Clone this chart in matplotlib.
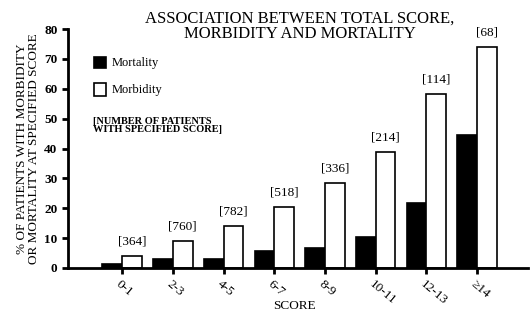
import matplotlib.pyplot as plt
import numpy as np
from matplotlib.patches import Rectangle

# 数据
scores = ['0-1', '2-3', '4-5', '6-7', '8-9', '10-11', '12-13', '\u226514']
mortality = [1.3, 3.1, 3.0, 5.6, 6.7, 10.4, 21.9, 44.6]
morbidity = [3.9, 9.1, 14.1, 20.3, 28.6, 39.0, 58.2, 74.1]
n_patients = ['[364]', '[760]', '[782]', '[518]', '[336]', '[214]', '[114]', '[68]']

plt.rcParams['font.family'] = ['Liberation Serif', 'DejaVu Serif']

fig = plt.figure(figsize=(5.31, 3.16), dpi=100)
ax = fig.add_axes([0.128, 0.152, 0.866, 0.756])

x = np.arange(len(scores))
w = 0.39
ax.bar(x - w / 2, mortality, w, color='black', edgecolor='black', linewidth=1.2)
ax.bar(x + w / 2, morbidity, w, color='white', edgecolor='black', linewidth=1.2)

for i, lab in enumerate(n_patients):
    ax.text(x[i] + w / 2, morbidity[i] + 2.8, lab, ha='center', va='bottom',
            fontsize=9.5)

ax.set_xlim(-1.07, 8.0)
ax.set_ylim(0, 80)
ax.set_yticks(range(0, 81, 10))
ax.set_yticklabels([str(v) for v in range(0, 81, 10)], fontsize=9.5, fontweight='bold')
ax.set_xticks(x)
ax.set_xticklabels([])
for i, s in enumerate(scores):
    ax.text(x[i] - 0.02, -3.5, s, rotation=-40, rotation_mode='anchor',
            ha='left', va='top', fontsize=9.5)

for sp in ['top', 'right']:
    ax.spines[sp].set_visible(False)
ax.spines['left'].set_linewidth(2)
ax.spines['bottom'].set_linewidth(2)
ax.tick_params(axis='both', direction='out', length=4, width=2)

ax.set_ylabel('% OF PATIENTS WITH MORBIDITY\nOR MORTALITY AT SPECIFIED SCORE',
              fontsize=9.5, linespacing=0.95, labelpad=3)
fig.text(0.555, 0.012, 'SCORE', ha='center', va='bottom', fontsize=9.5)

fig.text(0.565, 0.965, 'ASSOCIATION BETWEEN TOTAL SCORE,\nMORBIDITY AND MORTALITY',
         ha='center', va='top', fontsize=12, linespacing=0.9)

# 图例
ax.add_patch(Rectangle((-0.55, 67.0), 0.23, 3.6, facecolor='black',
                       edgecolor='black', lw=1.2, clip_on=False))
ax.text(-0.2, 68.8, 'Mortality', va='center', fontsize=9)
ax.add_patch(Rectangle((-0.55, 57.6), 0.23, 4.2, facecolor='white',
                       edgecolor='black', lw=1.2, clip_on=False))
ax.text(-0.2, 59.7, 'Morbidity', va='center', fontsize=9)
ax.text(-0.57, 50.5, '[NUMBER OF PATIENTS\nWITH SPECIFIED SCORE]', va='top',
        fontsize=7.5, fontweight='bold', linespacing=0.9)

fig.savefig('out.png', dpi=100)
